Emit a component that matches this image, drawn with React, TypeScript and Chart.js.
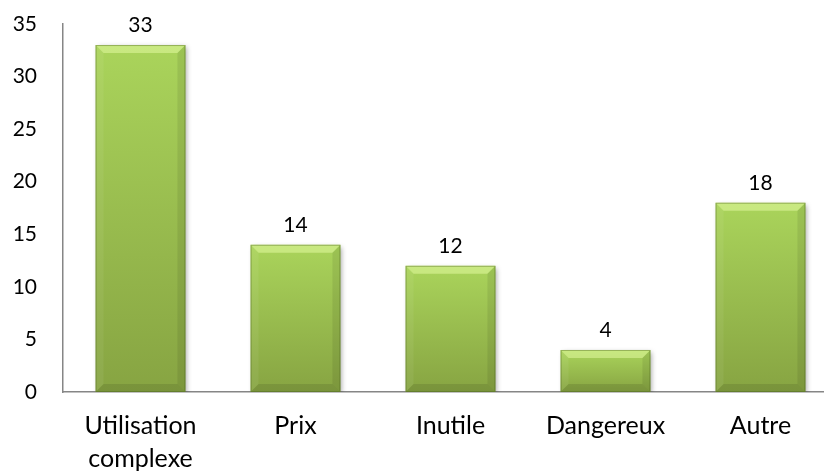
import React, { useEffect, useRef } from "react";
import { Chart, registerables } from "chart.js";

Chart.register(...registerables);

const categories: (string | string[])[] = [["Utilisation", "complexe"], "Prix", "Inutile", "Dangereux", "Autre"];
const values: number[] = [33, 14, 12, 4, 18];
const yTicks: number[] = [0, 5, 10, 15, 20, 25, 30, 35];

const FONT = "Lato, 'Open Sans', sans-serif";

const barDeco = {
  id: "barDeco",
  beforeDatasetsDraw(chart: any) {
    const ctx = chart.ctx;
    ctx.save();
    ctx.shadowColor = "rgba(0,0,0,0.35)";
    ctx.shadowBlur = 5;
    ctx.shadowOffsetX = 2;
    ctx.shadowOffsetY = 2;
  },
  afterDatasetsDraw(chart: any) {
    const ctx = chart.ctx;
    ctx.restore();
    const meta = chart.getDatasetMeta(0);
    meta.data.forEach((el: any, i: number) => {
      const w = el.width;
      const l = el.x - w / 2;
      const r = el.x + w / 2;
      const t = el.y;
      const b = el.base;
      const bv = 8;
      const poly = (pts: number[][], color: string) => {
        ctx.beginPath();
        ctx.moveTo(pts[0][0], pts[0][1]);
        for (let k = 1; k < pts.length; k++) ctx.lineTo(pts[k][0], pts[k][1]);
        ctx.closePath();
        ctx.fillStyle = color;
        ctx.fill();
      };
      poly([[l, t], [r, t], [r - bv, t + bv], [l + bv, t + bv]], "rgba(225,250,160,0.55)");
      poly([[l, t], [l + bv, t + bv], [l + bv, b - bv], [l, b]], "rgba(255,255,255,0.06)");
      poly([[r, t], [r - bv, t + bv], [r - bv, b - bv], [r, b]], "rgba(0,0,0,0.08)");
      poly([[l, b], [l + bv, b - bv], [r - bv, b - bv], [r, b]], "rgba(0,0,0,0.1)");
      ctx.strokeStyle = "rgba(70,95,25,0.4)";
      ctx.lineWidth = 1;
      ctx.strokeRect(l + 0.5, t + 0.5, w - 1, b - t - 1);
      ctx.fillStyle = "#000";
      ctx.font = `21px ${FONT}`;
      ctx.textAlign = "center";
      ctx.textBaseline = "middle";
      ctx.fillText(String(values[i]), el.x, t - 20);
    });
  },
};

export default function App() {
  const ref = useRef<HTMLCanvasElement | null>(null);
  useEffect(() => {
    document.body.style.margin = "0";
    document.body.style.overflow = "hidden";
    const canvas = ref.current!;
    const chart = new Chart(canvas, {
      type: "bar",
      data: {
        labels: categories,
        datasets: [
          {
            data: values,
            backgroundColor: (c: any) => {
              const ch = c.chart;
              const ys = ch.scales && ch.scales.y;
              if (!ys || c.raw === undefined) return "#9bbf4f";
              const top = ys.getPixelForValue(c.raw);
              const bot = ys.getPixelForValue(0);
              if (!isFinite(top) || !isFinite(bot) || top === bot) return "#9bbf4f";
              const g = ch.ctx.createLinearGradient(0, top, 0, bot);
              g.addColorStop(0, "#aad45b");
              g.addColorStop(1, "#87a442");
              return g;
            },
            borderWidth: 0,
            barPercentage: 0.58,
            categoryPercentage: 1,
          },
        ],
      },
      options: {
        responsive: false,
        animation: false,
        layout: { padding: { top: 24, right: 2, left: 0, bottom: 0 } },
        plugins: { legend: { display: false }, tooltip: { enabled: false } },
        scales: {
          x: {
            grid: { display: false, drawTicks: false },
            border: { display: true, color: "#868686", width: 1.5 },
            ticks: {
              color: "#000",
              font: { family: FONT, size: 25, lineHeight: 1.32 },
              padding: 17,
              maxRotation: 0,
              autoSkip: false,
            },
            afterFit: (s: any) => {
              s.height = 81;
            },
          },
          y: {
            min: 0,
            max: 35,
            afterBuildTicks: (s: any) => {
              s.ticks = yTicks.map((v) => ({ value: v }));
            },
            grid: { display: false, drawTicks: false },
            border: { display: true, color: "#868686", width: 1.5 },
            ticks: {
              color: "#000",
              font: { family: FONT, size: 21 },
              padding: 26,
            },
            afterFit: (s: any) => {
              s.width = 63;
              s.paddingTop = 0;
              s.paddingBottom = 0;
            },
          },
        },
      },
      plugins: [barDeco],
    });
    return () => chart.destroy();
  }, []);
  return (
    <div style={{ position: "fixed", left: 0, top: 0, width: 824, height: 473, overflow: "hidden", background: "#fff" }}>
      <canvas ref={ref} width={840} height={473} style={{ display: "block" }} />
    </div>
  );
}
